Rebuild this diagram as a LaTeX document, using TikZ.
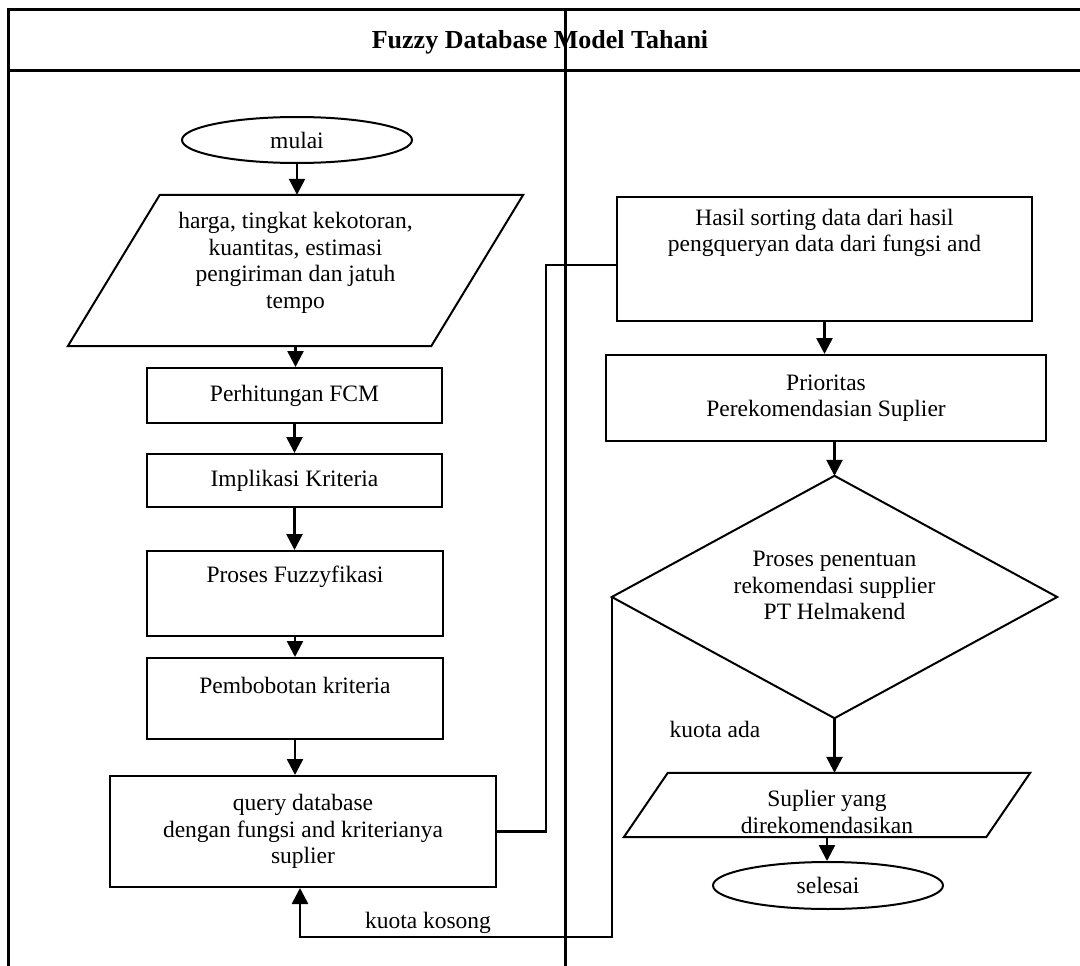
\documentclass[tikz,border=0pt]{standalone}
\usepackage{fontspec}
\setmainfont{Liberation Serif}
\usetikzlibrary{shapes.geometric,arrows.meta,calc}
\begin{document}
\begin{tikzpicture}[x=1pt,y=-1pt,
  every node/.style={font=\fontsize{23.5}{26.5}\selectfont, align=center},
  frame/.style={line width=3pt},
  box/.style={draw, line width=2pt, rectangle, inner sep=0pt},
  oval/.style={draw, line width=2pt, ellipse, inner sep=0pt, minimum width=230pt, minimum height=46pt},
  shell/.style={rectangle, inner sep=0pt},
  outline/.style={line width=2pt, line join=miter},
  flow/.style={line width=2.6pt, -{Triangle[width=16pt,length=16pt]}},
  link/.style={line width=2.6pt},
  note/.style={inner sep=0pt}
]
\useasboundingbox (0,0) rectangle (1080,966);

% swimlane frame and title
\draw[frame] (1080,10) -- (8,10) -- (8,966);
\draw[frame] (8,71) -- (1080,71);
\draw[frame] (565,10) -- (565,966);
\node[font=\bfseries\fontsize{26}{30}\selectfont] (title) at (540,42) {Fuzzy Database Model Tahani};

% left lane
\node[oval] (start) at (297,140) {mulai};
\node[shell, minimum width=363pt, minimum height=151pt,
  label={[name=inputtext, yshift=7.5pt]center:{harga, tingkat kekotoran,\\kuantitas, estimasi\\pengiriman dan jatuh\\tempo}}] (input) at (295.5,270.5) {};
\draw[outline] ([xshift=46pt]input.north west) -- ([xshift=46pt]input.north east)
  -- ([xshift=-46pt]input.south east) -- ([xshift=-46pt]input.south west) -- cycle;
\node[box, minimum width=295pt, minimum height=55pt] (fcm) at (294.5,395.5) {Perhitungan FCM};
\node[box, minimum width=295pt, minimum height=53pt] (impl) at (294.5,480.5) {Implikasi Kriteria};
\node[box, minimum width=296pt, minimum height=85pt,
  label={[name=fuzztext, yshift=16.5pt]center:{Proses Fuzzyfikasi}}] (fuzz) at (295,593.5) {};
\node[box, minimum width=296pt, minimum height=81pt,
  label={[name=bobottext, yshift=13.5pt]center:{Pembobotan kriteria}}] (bobot) at (295,698.5) {};
\node[box, minimum width=386pt, minimum height=111pt] (query) at (303,831.5)
  {query database\\dengan fungsi and kriterianya\\suplier};

% right lane
\node[box, minimum width=415pt, minimum height=124pt,
  label={[name=sortedtext, yshift=26pt]center:{Hasil sorting data dari hasil\\pengqueryan data dari fungsi and}}] (sorted) at (824.5,259) {};
\node[box, minimum width=440pt, minimum height=86pt] (prior) at (826,398)
  {Prioritas\\Perekomendasian Suplier};
\node[shell, minimum width=445pt, minimum height=242pt,
  label={[name=decidetext, yshift=11.5pt]center:{Proses penentuan\\rekomendasi supplier\\PT Helmakend}}] (decide) at (834.5,597) {};
\draw[outline] (decide.north) -- (decide.east) -- (decide.south) -- (decide.west) -- cycle;
\node[shell, minimum width=362pt, minimum height=64pt,
  label={[name=resulttext, yshift=-7pt]center:{Suplier yang\\direkomendasikan}}] (result) at (827,805) {};
\draw[outline] ([xshift=22pt]result.north west) -- ([xshift=22pt]result.north east)
  -- ([xshift=-22pt]result.south east) -- ([xshift=-22pt]result.south west) -- cycle;
\node[oval, minimum height=47pt] (finish) at (828,885.5) {selesai};

% flow
\draw[flow] (start.south) -- (start.south |- input.north);
\draw[flow] (input.south) -- (input.south |- fcm.north);
\draw[flow] (fcm.south) -- (fcm.south |- impl.north);
\draw[flow] (impl.south) -- (impl.south |- fuzz.north);
\draw[flow] (fuzz.south) -- (fuzz.south |- bobot.north);
\draw[flow] (bobot.south) -- (bobot.south |- query.north);
\draw[link] (query.east) -- ++(49,0) |- ([yshift=-6pt]sorted.west);
\draw[flow] (sorted.south) -- (sorted.south |- prior.north);
\draw[flow] (decide.north |- prior.south) -- (decide.north);
\draw[flow] (decide.south) -- (decide.south |- result.north);
\draw[flow] (result.south) -- (result.south |- finish.north);
\coordinate (loop) at (300,937);
\draw[flow] (decide.west) |- (loop) -- (loop |- query.south);

% branch labels
\node[note] (yes) at (715,729) {kuota ada};
\node[note] (no) at (428,923) {kuota kosong};
\end{tikzpicture}
\end{document}
